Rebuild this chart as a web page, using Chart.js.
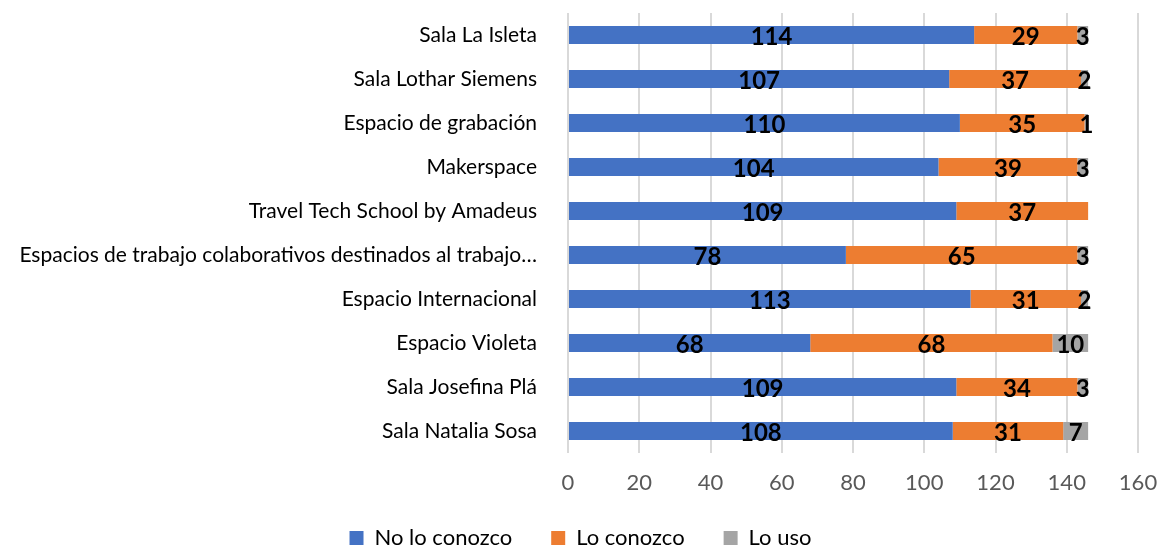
<!DOCTYPE html>
<html>
<head>
<meta charset="utf-8">
<script src="https://cdn.jsdelivr.net/npm/chart.js@4/dist/chart.umd.min.js"></script>
<style>
  html, body { margin: 0; padding: 0; background: #fff; }
  #wrap { width: 1161px; height: 548px; }
</style>
</head>
<body>
<div id="wrap"><canvas id="chart" width="1161" height="548"></canvas></div>
<script>
const categories = [
    'Sala La Isleta',
    'Sala Lothar Siemens',
    'Espacio de grabación',
    'Makerspace',
    'Travel Tech School by Amadeus',
    'Espacios de trabajo colaborativos destinados al trabajo…',
    'Espacio Internacional',
    'Espacio Violeta',
    'Sala Josefina Plá',
    'Sala Natalia Sosa',
];
const noLoConozco = [114, 107, 110, 104, 109, 78, 113, 68, 109, 108];
const loConozco = [29, 37, 35, 39, 37, 65, 31, 68, 34, 31];
const loUso = [3, 2, 1, 3, null, 3, 2, 10, 3, 7];
const xTicks = [0, 20, 40, 60, 80, 100, 120, 140, 160];

const FONT = 'Lato, "Open Sans", sans-serif';

// draw the value in the middle of every segment
const segmentLabels = {
    id: 'segmentLabels',
    afterDatasetsDraw(chart) {
        const ctx = chart.ctx;
        ctx.save();
        ctx.font = `bold 24px ${FONT}`;
        ctx.fillStyle = '#000';
        ctx.textAlign = 'center';
        ctx.textBaseline = 'middle';
        chart.data.datasets.forEach((ds, di) => {
            const meta = chart.getDatasetMeta(di);
            meta.data.forEach((bar, i) => {
                const v = ds.data[i];
                if (v == null) return;
                const x = (bar.x + bar.base) / 2;
                ctx.fillText(String(v), x, bar.y + 2);
            });
        });
        ctx.restore();
    }
};

new Chart(document.getElementById('chart'), {
    type: 'bar',
    data: {
        labels: categories,
        datasets: [
            { label: 'No lo conozco', data: noLoConozco, backgroundColor: '#4472C4' },
            { label: 'Lo conozco', data: loConozco, backgroundColor: '#ED7D31' },
            { label: 'Lo uso', data: loUso, backgroundColor: '#A5A5A5' },
        ],
    },
    options: {
        indexAxis: 'y',
        responsive: false,
        animation: false,
        layout: { padding: { top: 13, right: 0, left: 0, bottom: -11 } },
        datasets: {
            bar: { categoryPercentage: 1, barPercentage: 0.41 }
        },
        plugins: {
            legend: {
                position: 'bottom',
                labels: {
                    boxWidth: 14,
                    boxHeight: 14,
                    padding: 6,
                    color: '#000',
                    font: { family: FONT, size: 22 },
                    generateLabels: chart => Chart.defaults.plugins.legend.labels.generateLabels(chart)
                        .map((l, i, arr) => ({ ...l, text: i < arr.length - 1 ? l.text + '\u2003\u2003' : l.text })),
                },
            },
            tooltip: { enabled: false },
        },
        scales: {
            x: {
                stacked: true,
                min: 0,
                max: 160,
                afterBuildTicks: axis => { axis.ticks = xTicks.map(v => ({ value: v })); },
                afterFit: axis => { axis.height = 68; axis.paddingRight = 23; axis.paddingLeft = 0; },
                grid: { color: '#D9D9D9', lineWidth: 2, drawTicks: false },
                border: { display: false },
                ticks: { color: '#595959', padding: 17, font: { family: FONT, size: 22 } },
            },
            y: {
                stacked: true,
                afterFit: axis => { axis.width = 568; axis.paddingTop = 0; axis.paddingBottom = 0; },
                grid: { display: false },
                border: { display: false },
                ticks: { color: '#000', padding: 23, font: { family: FONT, size: 21 } },
            },
        },
    },
    plugins: [segmentLabels],
});
</script>
</body>
</html>
